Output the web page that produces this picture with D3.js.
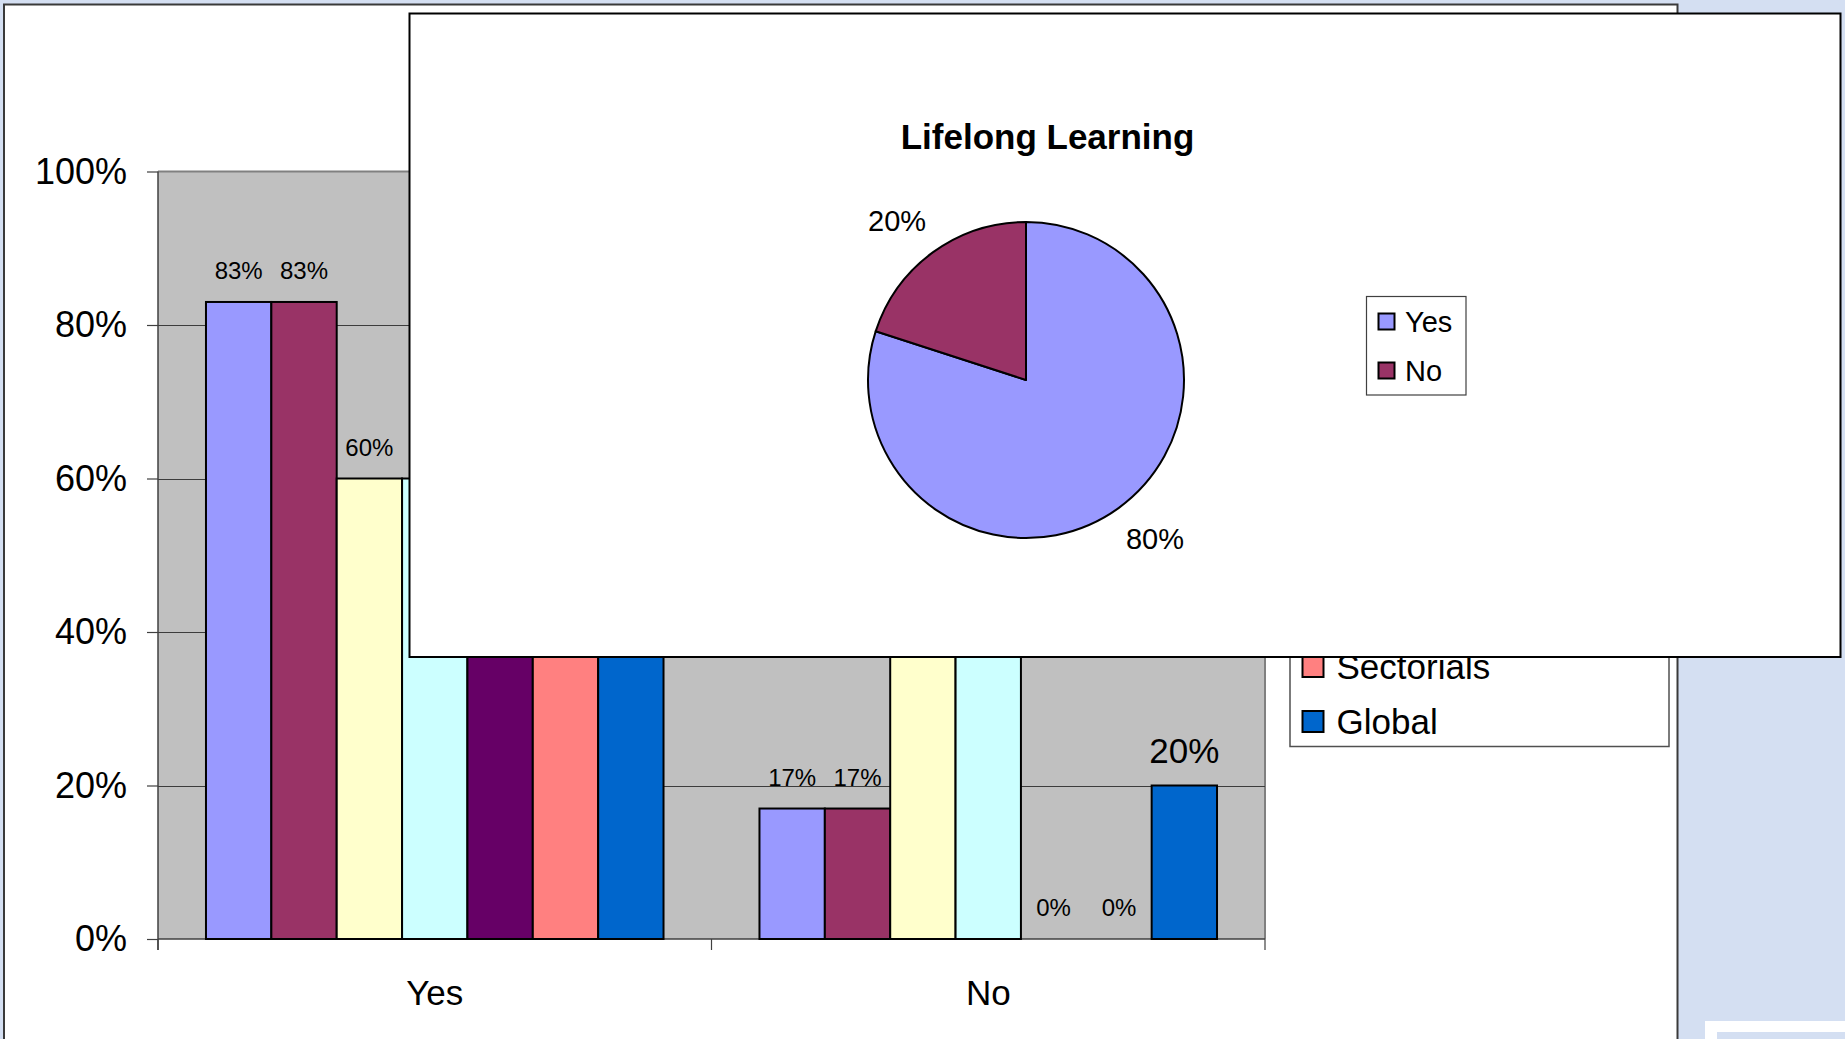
<!DOCTYPE html>
<html>
<head>
<meta charset="utf-8">
<script src="https://cdn.jsdelivr.net/npm/d3@7"></script>
<style>
  html, body { margin: 0; padding: 0; background: #D4DFF2; overflow: hidden; }
  svg { display: block; font-family: "Liberation Sans", Arial, sans-serif; }
</style>
</head>
<body>
<script>
// ---- data ----
const categories = ["Yes", "No"];
const seriesNames = ["Series 1", "Series 2", "Series 3", "Series 4", "Series 5", "Sectorials", "Global"];
const seriesColors = ["#9999FF", "#993366", "#FFFFCC", "#CCFFFF", "#660066", "#FF8080", "#0066CC"];
const yesShares = [83, 83, 60, 60, 100, 100, 80];
const noShares = [17, 17, 40, 40, 0, 0, 20];
const yTicks = [0, 20, 40, 60, 80, 100];

const pieTitle = "Lifelong Learning";
const pieLabels = ["Yes", "No"];
const pieShares = [80, 20];
const pieColors = ["#9999FF", "#993366"];

// ---- canvas ----
const W = 1845, H = 1039;
const svg = d3.select("body").append("svg").attr("width", W).attr("height", H);

svg.append("rect").attr("width", W).attr("height", H).attr("fill", "#D4DFF2");

// neighbouring slide element in the lower right corner
svg.append("rect").attr("x", 1705).attr("y", 1021).attr("width", 140).attr("height", 18).attr("fill", "#FFFFFF");
svg.append("rect").attr("x", 1717).attr("y", 1032).attr("width", 128).attr("height", 7).attr("fill", "#D4DFF2");

// chart frame of the clustered column chart
svg.append("rect").attr("x", 4).attr("y", 4.5).attr("width", 1673.5).attr("height", 1060)
  .attr("fill", "#FFFFFF").attr("stroke", "#3A3A3A").attr("stroke-width", 2);

// pie panel box (drawn last, on top of the column chart)
const panelBox = { x: 409.5, y: 13.5, w: 1431, h: 643.5 };

// ---- column chart ----
const plot = { left: 158, right: 1265, top: 171.5, bottom: 939 };

const x0 = d3.scaleBand().domain(categories).range([plot.left, plot.right]).paddingInner(0).paddingOuter(0);
const x1 = d3.scaleBand().domain(seriesNames).range([0, x0.bandwidth()]).paddingInner(0).paddingOuter(0.734);
const y = d3.scaleLinear().domain([0, 100]).range([plot.bottom, plot.top]);

const g = svg.append("g");

// plot area
g.append("rect").attr("x", plot.left).attr("y", plot.top)
  .attr("width", plot.right - plot.left).attr("height", plot.bottom - plot.top)
  .attr("fill", "#C0C0C0");
g.append("path")
  .attr("d", `M${plot.left},${plot.top}H${plot.right}V${plot.bottom}`)
  .attr("fill", "none").attr("stroke", "#808080").attr("stroke-width", 2);

// gridlines
g.selectAll("line.grid").data(yTicks.filter(t => t > 0 && t < 100)).join("line")
  .attr("class", "grid")
  .attr("x1", plot.left).attr("x2", plot.right)
  .attr("y1", d => Math.round(y(d)) + 0.5).attr("y2", d => Math.round(y(d)) + 0.5)
  .attr("stroke", "#3C3C3C").attr("stroke-width", 1);

// y axis
const yAxis = g.append("g").attr("transform", `translate(${plot.left},0)`)
  .call(d3.axisLeft(y).tickValues(yTicks).tickFormat(d => d + "%").tickSizeInner(11).tickSizeOuter(0).tickPadding(20));
yAxis.select(".domain").attr("stroke", "#404040").attr("stroke-width", 1.5)
  .attr("d", `M0,${plot.top}V${plot.bottom + 11}`);
yAxis.selectAll(".tick line").attr("stroke", "#404040").attr("stroke-width", 1.2);
yAxis.selectAll(".tick text").attr("font-size", 36).attr("fill", "#000")
  .attr("font-family", "Liberation Sans, Arial, sans-serif");

// x axis line and category boundary ticks
g.append("line").attr("x1", plot.left).attr("x2", plot.right)
  .attr("y1", plot.bottom).attr("y2", plot.bottom)
  .attr("stroke", "#404040").attr("stroke-width", 1.5);
const bounds = categories.map(c => x0(c)).concat([x0(categories[categories.length - 1]) + x0.bandwidth()]);
g.selectAll("line.xtick").data(bounds).join("line").attr("class", "xtick")
  .attr("x1", d => d).attr("x2", d => d)
  .attr("y1", plot.bottom).attr("y2", plot.bottom + 11)
  .attr("stroke", "#404040").attr("stroke-width", 1.2);
g.selectAll("text.xlab").data(categories).join("text").attr("class", "xlab")
  .attr("x", d => x0(d) + x0.bandwidth() / 2).attr("y", 1005)
  .attr("text-anchor", "middle").attr("font-size", 35).attr("fill", "#000")
  .text(d => d);

// bars
const sharesByCategory = { "Yes": yesShares, "No": noShares };
const barData = [];
categories.forEach(c => {
  seriesNames.forEach((s, i) => {
    barData.push({ cat: c, series: s, idx: i, value: sharesByCategory[c][i] });
  });
});

g.selectAll("rect.bar").data(barData).join("rect").attr("class", "bar")
  .attr("x", d => x0(d.cat) + x1(d.series))
  .attr("y", d => y(d.value))
  .attr("width", x1.bandwidth())
  .attr("height", d => y(0) - y(d.value))
  .attr("fill", d => seriesColors[d.idx])
  .attr("stroke", "#000").attr("stroke-width", d => d.value > 0 ? 2 : 0);

g.selectAll("text.vlab").data(barData).join("text").attr("class", "vlab")
  .attr("x", d => x0(d.cat) + x1(d.series) + x1.bandwidth() / 2)
  .attr("y", d => y(d.value) - 23)
  .attr("text-anchor", "middle")
  .attr("font-size", d => d.series === "Global" ? 35 : 24)
  .attr("fill", "#000")
  .text(d => d.value + "%");

// legend of the column chart; rows lying wholly behind the pie panel are skipped
const legTop = 371, legStep = 55;
const legRows = seriesNames.map((s, i) => ({ name: s, idx: i, cy: legTop + 20.5 + i * legStep }))
  .filter(d => d.cy + 11 > panelBox.y + panelBox.h);
const leg = svg.append("g");
leg.append("rect").attr("x", 1290).attr("y", legTop)
  .attr("width", 379).attr("height", 746.5 - legTop)
  .attr("fill", "#FFFFFF").attr("stroke", "#505050").attr("stroke-width", 1.5);
const legItems = leg.selectAll("g.item").data(legRows).join("g").attr("class", "item")
  .attr("transform", d => `translate(0,${d.cy})`);
legItems.append("rect").attr("x", 1302.5).attr("y", -10.5).attr("width", 21).attr("height", 21)
  .attr("fill", d => seriesColors[d.idx]).attr("stroke", "#000").attr("stroke-width", 2);
legItems.append("text").attr("x", 1336.5).attr("y", 0).attr("dy", "0.36em")
  .attr("font-size", 35).attr("fill", "#000").text(d => d.name);

// ---- pie chart panel ----
const panel = svg.append("g");
panel.append("rect").attr("x", panelBox.x).attr("y", panelBox.y).attr("width", panelBox.w).attr("height", panelBox.h)
  .attr("fill", "#FFFFFF").attr("stroke", "#000").attr("stroke-width", 2);

panel.append("text").attr("x", 1047.5).attr("y", 148.5).attr("text-anchor", "middle")
  .attr("font-size", 35).attr("font-weight", "bold").attr("fill", "#000").text(pieTitle);

const cx = 1026, cy = 380, r = 158;
const pie = d3.pie().sort(null).value(d => d.v).startAngle(0).endAngle(2 * Math.PI);
const pieData = pie(pieLabels.map((l, i) => ({ label: l, v: pieShares[i], color: pieColors[i] })));
const arc = d3.arc().innerRadius(0).outerRadius(r);

const pg = panel.append("g").attr("transform", `translate(${cx},${cy})`);
pg.selectAll("path").data(pieData).join("path")
  .attr("d", arc).attr("fill", d => d.data.color)
  .attr("stroke", "#000").attr("stroke-width", 2).attr("stroke-linejoin", "round");

// percentage labels outside the slices
pg.selectAll("text").data(pieData).join("text")
  .each(function (d) {
    const a = (d.startAngle + d.endAngle) / 2;
    const ax = Math.sin(a) * (r + 12);
    const ay = -Math.cos(a) * (r + 12);
    const right = Math.sin(a) >= 0;
    const upper = Math.cos(a) >= 0;
    d3.select(this)
      .attr("x", ax)
      .attr("y", upper ? ay - 11 : ay + 31)
      .attr("text-anchor", right ? "start" : "end");
  })
  .attr("font-size", 29).attr("fill", "#000")
  .text(d => d.data.v + "%");

// pie legend
const pl = panel.append("g");
pl.append("rect").attr("x", 1366.5).attr("y", 296.5).attr("width", 99.5).attr("height", 98.5)
  .attr("fill", "#FFFFFF").attr("stroke", "#404040").attr("stroke-width", 1.2);
const plItems = pl.selectAll("g.item").data(pieLabels).join("g").attr("class", "item")
  .attr("transform", (d, i) => `translate(0,${321.5 + i * 49})`);
plItems.append("rect").attr("x", 1378.5).attr("y", -8).attr("width", 16).attr("height", 16)
  .attr("fill", (d, i) => pieColors[i]).attr("stroke", "#000").attr("stroke-width", 2);
plItems.append("text").attr("x", 1405).attr("y", 0).attr("dy", "0.36em")
  .attr("font-size", 29).attr("fill", "#000").text(d => d);
</script>
</body>
</html>
